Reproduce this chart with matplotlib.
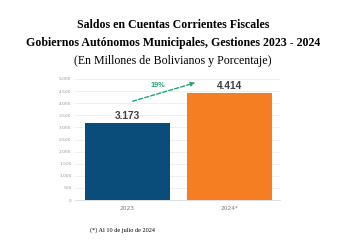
import matplotlib
matplotlib.use("Agg")
import matplotlib.pyplot as plt

categories = ["2023", "2024*"]
values = [3173, 4414]
value_labels = ["3.173", "4.414"]
yticks = [0, 500, 1000, 1500, 2000, 2500, 3000, 3500, 4000, 4500, 5000]
ytick_labels = ["0", "500", "1.000", "1.500", "2.000", "2.500", "3.000", "3.500", "4.000", "4.500", "5.000"]
growth_label = "19%"
colors = ["#0b4d7a", "#f57e22"]

fig = plt.figure(figsize=(3.5, 2.5), dpi=100)
fig.patch.set_facecolor("white")
ax = fig.add_axes([75/350, 0.2, 205/350, 121/250])

x = list(range(len(categories)))
ax.bar(x, values, width=0.83, color=colors, zorder=3)
for xi, v, lab in zip(x, values, value_labels):
    ax.text(xi, v + 80, lab, ha="center", va="bottom", fontsize=7.3, fontweight="bold",
            color="#404040", family="Liberation Sans")

ax.set_xlim(-0.515, 1.495)
ax.set_ylim(0, 5000)
ax.set_yticks(yticks)
ax.set_yticklabels(ytick_labels)
ax.set_xticks(x)
ax.set_xticklabels(categories)
ax.tick_params(axis="y", labelsize=3.2, colors="#9a9a9a", length=0, pad=2.5)
ax.tick_params(axis="x", labelsize=4.2, colors="#7a7a7a", length=0, pad=4)
ax.grid(axis="y", color="#eeeeee", linewidth=0.6, zorder=0)
for s in ["top", "right", "left"]:
    ax.spines[s].set_visible(False)
ax.spines["bottom"].set_color("#d9d9d9")
ax.spines["bottom"].set_linewidth(0.6)

ax.annotate("", xy=(0.69, 4876), xytext=(0.025, 4050),
            arrowprops=dict(arrowstyle="-|>", color="#1ea67a", lw=1.0,
                            linestyle=(0, (3, 1.5)), mutation_scale=6),
            annotation_clip=False)
ax.text(0.3, 4752, growth_label, ha="center", va="center", fontsize=5.3,
        fontweight="bold", color="#1ea67a", family="Liberation Sans")

fig.text(0.494, 1 - 25/250, "Saldos en Cuentas Corrientes Fiscales", ha="center", va="center",
         fontsize=8.6, fontweight="bold", family="Liberation Serif")
fig.text(0.494, 1 - 43/250, "Gobiernos Autónomos Municipales, Gestiones 2023 - 2024", ha="center",
         va="center", fontsize=8.6, fontweight="bold", family="Liberation Serif")
fig.text(0.494, 1 - 61/250, "(En Millones de Bolivianos y Porcentaje)", ha="center", va="center",
         fontsize=8.6, family="Liberation Serif")
fig.text(90/350, 1 - 230/250, "(*) Al 10 de julio de 2024", ha="left", va="center",
         fontsize=4.5, family="Liberation Serif")

fig.savefig("out.png", dpi=100, facecolor="white")
